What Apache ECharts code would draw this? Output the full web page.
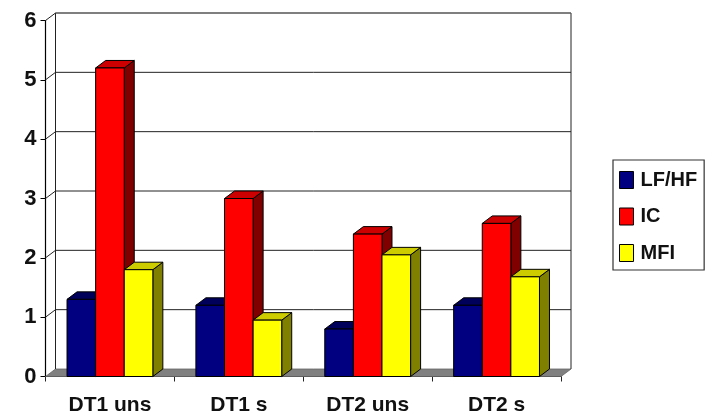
<!DOCTYPE html>
<html>
<head>
<meta charset="utf-8">
<style>html,body{margin:0;padding:0;background:#fff}#chart{width:713px;height:417px}</style>
<script src="https://cdn.jsdelivr.net/npm/echarts@6/dist/echarts.min.js"></script>
</head>
<body>
<div id="chart"></div>
<script>
// Measurements per session
const categories = ['DT1 uns', 'DT1 s', 'DT2 uns', 'DT2 s'];
const lfhf = [1.3, 1.2, 0.8, 1.2];
const ic = [5.2, 3.0, 2.4, 2.58];
const mfi = [1.8, 0.95, 2.05, 1.68];
const yTicks = [0, 1, 2, 3, 4, 5, 6];

// Oblique projection used for the depth of bars and back wall
const DEPTH_X = 10;
const DEPTH_Y = -7.5;
const BAR_SHARE = 0.222;
const FONT = '"Liberation Sans", Arial, sans-serif';

const poly = (points, fill, stroke, lineWidth) => ({
  type: 'polygon',
  shape: { points },
  style: { fill, stroke: stroke || '#000', lineWidth: lineWidth === undefined ? 1 : lineWidth }
});
const line = (x1, y1, x2, y2, stroke, lineWidth) => ({
  type: 'line',
  shape: { x1, y1, x2, y2 },
  style: { stroke, lineWidth }
});

// One 3D column: front face, top face and right side face
function barRenderer(slot, front, top, side) {
  return function (params, api) {
    const base = api.coord([api.value(0), 0]);
    const head = api.coord([api.value(0), api.value(1)]);
    const w = api.size([1, 0])[0] * BAR_SHARE;
    const x0 = base[0] + (slot - 1.5) * w;
    const x1 = x0 + w;
    const yb = base[1];
    const yt = head[1];
    return {
      type: 'group',
      children: [
        poly([[x1, yb], [x1 + DEPTH_X, yb + DEPTH_Y], [x1 + DEPTH_X, yt + DEPTH_Y], [x1, yt]], side),
        poly([[x0, yt], [x0 + DEPTH_X, yt + DEPTH_Y], [x1 + DEPTH_X, yt + DEPTH_Y], [x1, yt]], top),
        poly([[x0, yb], [x1, yb], [x1, yt], [x0, yt]], front)
      ]
    };
  };
}

// Back wall gridlines with their diagonal links to the front axis, plus floor and wall edges
function wallRenderer(params, api) {
  const tick = api.value(0);
  const left = api.coord([0, tick]);
  const halfBand = api.size([1, 0])[0] / 2;
  const xl = left[0] - halfBand;
  const xr = api.coord([categories.length - 1, tick])[0] + halfBand;
  const y = left[1];
  const children = [];
  if (tick === 0) {
    children.push(poly([[xl, y], [xl + DEPTH_X, y + DEPTH_Y], [xr + DEPTH_X, y + DEPTH_Y], [xr, y]], '#808080', '#666', 0.8));
    const topY = api.coord([0, yTicks[yTicks.length - 1]])[1];
    children.push(line(xl + DEPTH_X, y + DEPTH_Y, xl + DEPTH_X, topY + DEPTH_Y, '#222', 1));
    children.push(line(xr + DEPTH_X, y + DEPTH_Y, xr + DEPTH_X, topY + DEPTH_Y, '#222', 1));
  } else {
    const isTop = tick === yTicks[yTicks.length - 1];
    children.push(line(xl + DEPTH_X, y + DEPTH_Y, xr + DEPTH_X, y + DEPTH_Y, isTop ? '#555' : '#222', isTop ? 1.6 : 1));
    children.push(line(xl, y, xl + DEPTH_X, y + DEPTH_Y, '#222', 1));
  }
  return { type: 'group', children };
}

function barSeries(name, values, slot, front, top, side) {
  return {
    name,
    type: 'custom',
    z: 3 + slot,
    silent: true,
    itemStyle: { color: front },
    encode: { x: 0, y: 1 },
    renderItem: barRenderer(slot, front, top, side),
    data: values.map((v, i) => [i, v])
  };
}

const chart = echarts.init(document.getElementById('chart'), null, { renderer: 'canvas' });
chart.setOption({
  animation: false,
  backgroundColor: '#fff',
  grid: { left: 45.5, top: 20.5, width: 515.5, height: 356 },
  legend: {
    left: 613,
    top: 160,
    orient: 'vertical',
    padding: [10, 7, 7, 6],
    itemWidth: 14,
    itemHeight: 17,
    itemGap: 16.5,
    borderColor: '#333',
    borderWidth: 1.2,
    backgroundColor: '#fff',
    icon: 'rect',
    selectedMode: false,
    itemStyle: { borderColor: '#000', borderWidth: 1 },
    textStyle: { fontFamily: FONT, fontWeight: 'bold', fontSize: 20, color: '#111', padding: [0, 0, 0, 2] },
    data: ['LF/HF', 'IC', 'MFI']
  },
  xAxis: {
    type: 'category',
    data: categories,
    axisLine: { lineStyle: { color: '#000', width: 1.2 } },
    axisTick: { show: true, alignWithLabel: false, length: 5, lineStyle: { color: '#222' } },
    axisLabel: { fontFamily: FONT, fontWeight: 'bold', fontSize: 21, color: '#111', margin: 18 },
    splitLine: { show: false }
  },
  yAxis: {
    type: 'value',
    min: 0,
    max: 6,
    interval: 1,
    axisLine: { show: true, lineStyle: { color: '#000', width: 1.2 } },
    axisTick: { show: true, length: 5, lineStyle: { color: '#000' } },
    axisLabel: { fontFamily: FONT, fontWeight: 'bold', fontSize: 22, color: '#111', margin: 9 },
    splitLine: { show: false }
  },
  series: [
    {
      type: 'custom',
      z: 1,
      silent: true,
      renderItem: wallRenderer,
      encode: { y: 0 },
      data: yTicks.map(t => [t])
    },
    barSeries('LF/HF', lfhf, 0, '#000080', '#00005a', '#000050'),
    barSeries('IC', ic, 1, '#ff0000', '#cc0000', '#800000'),
    barSeries('MFI', mfi, 2, '#ffff00', '#cccc00', '#808000')
  ]
});
</script>
</body>
</html>
